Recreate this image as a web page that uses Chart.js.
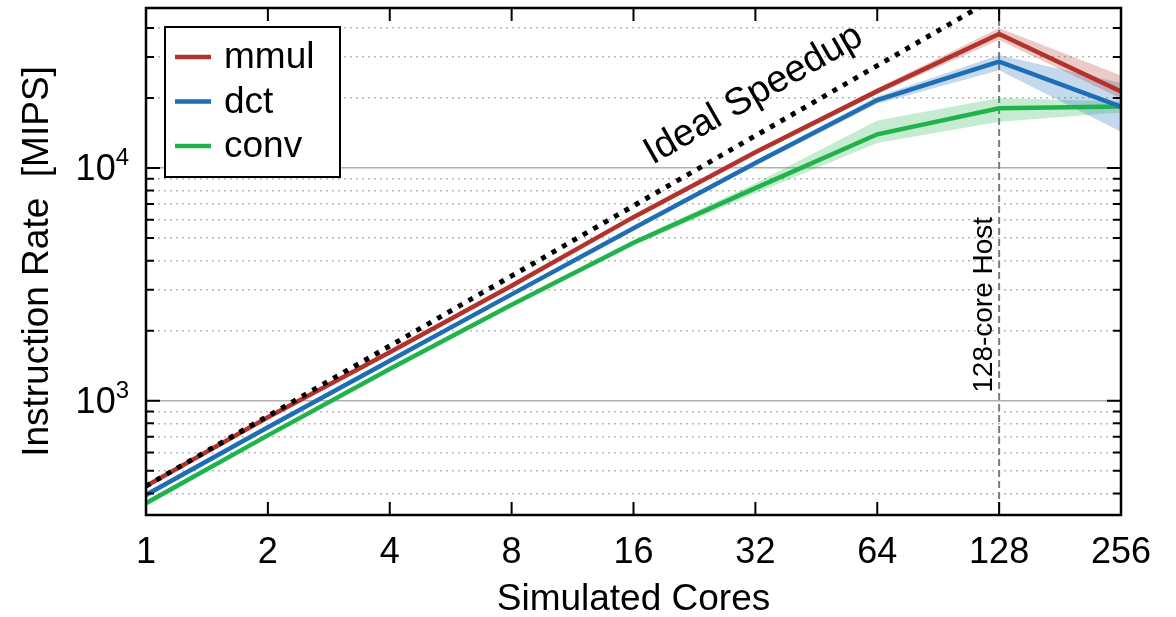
<!DOCTYPE html>
<html>
<head>
<meta charset="utf-8">
<script src="https://cdn.jsdelivr.net/npm/chart.js@4"></script>
<style>
  html, body { margin: 0; padding: 0; background: #fff; }
  #wrap { width: 1176px; height: 617px; }
</style>
</head>
<body>
<div id="wrap"><canvas id="chart-mips"></canvas></div>
<script>
// values
const cores = [1, 2, 4, 8, 16, 32, 64, 128, 256];
const idealRate = [430, 860, 1720, 3440, 6880, 13760, 27520, 55040, 110080];

const mmulRate = [430, 850, 1615, 3120, 6150, 11700, 21400, 37700, 21300];
const mmulLow  = [425, 840, 1595, 3080, 6060, 11450, 20800, 35500, 19900];
const mmulHigh = [435, 860, 1635, 3160, 6240, 11950, 22000, 40000, 25000];

const dctRate = [394, 770, 1486, 2865, 5510, 10500, 19600, 28650, 18340];
const dctLow  = [390, 762, 1470, 2830, 5430, 10250, 18900, 26300, 14300];
const dctHigh = [398, 778, 1502, 2900, 5590, 10750, 20300, 30600, 23200];

const convRate = [363, 710, 1369, 2585, 4775, 8200, 13960, 18050, 18400];
const convLow  = [359, 702, 1352, 2550, 4650, 7800, 12800, 15800, 17300];
const convHigh = [367, 718, 1386, 2620, 4900, 8600, 16000, 20000, 19300];

const seriesNames = ['mmul', 'dct', 'conv'];
const seriesColors = ['#b3332c', '#1f6db5', '#20b34b'];
const bandColors = ['rgba(179,51,44,0.26)', 'rgba(31,109,181,0.26)', 'rgba(32,179,75,0.26)'];

const yMajor = [1000, 10000];
const yMinor = [400, 500, 600, 700, 800, 900, 2000, 3000, 4000, 5000, 6000, 7000, 8000, 9000, 20000, 30000, 40000];
const yMin = 323;
const yMax = 48700;

const hostCores = 128;
const hostLabel = '128-core Host';
const idealLabel = 'Ideal Speedup';
const idealLabelCores = 19.2;
const idealLabelRate = 8250;

const FONT = "'Liberation Sans', Arial, Helvetica, sans-serif";
Chart.defaults.font.family = FONT;
Chart.defaults.color = '#000';

function points(values) {
    return cores.map((c, i) => ({ x: c, y: values[i] }));
}

const datasets = [];
const rates = [mmulRate, dctRate, convRate];
const lows = [mmulLow, dctLow, convLow];
const highs = [mmulHigh, dctHigh, convHigh];

datasets.push({
    label: 'Ideal Speedup',
    data: points(idealRate),
    borderColor: '#000',
    borderWidth: 5,
    borderDash: [5, 7],
    borderCapStyle: 'butt',
    pointRadius: 0,
    fill: false,
    order: 0
});

for (let s = 0; s < 3; s++) {
    datasets.push({
        label: seriesNames[s],
        data: points(rates[s]),
        borderColor: seriesColors[s],
        borderWidth: 4.5,
        pointRadius: 0,
        fill: false,
        order: 1
    });
}
for (let s = 0; s < 3; s++) {
    const hiIndex = datasets.length;
    datasets.push({
        label: seriesNames[s] + ' high',
        data: points(highs[s]),
        borderColor: 'rgba(0,0,0,0)',
        borderWidth: 0,
        pointRadius: 0,
        fill: false,
        order: 10
    });
    datasets.push({
        label: seriesNames[s] + ' low',
        data: points(lows[s]),
        borderColor: 'rgba(0,0,0,0)',
        borderWidth: 0,
        pointRadius: 0,
        fill: { target: hiIndex },
        backgroundColor: bandColors[s],
        order: 10
    });
}

const hostLinePlugin = {
    id: 'hostLine',
    beforeDatasetsDraw(chart) {
        const { ctx, chartArea, scales } = chart;
        const px = scales.x.getPixelForValue(hostCores);
        ctx.save();
        ctx.strokeStyle = '#7a7a7a';
        ctx.lineWidth = 2;
        ctx.setLineDash([7, 4]);
        ctx.beginPath();
        ctx.moveTo(px, chartArea.top);
        ctx.lineTo(px, chartArea.bottom);
        ctx.stroke();
        ctx.restore();
    }
};

const decorPlugin = {
    id: 'decor',
    afterDraw(chart) {
        const { ctx, chartArea, scales } = chart;
        const { left, right, top, bottom } = chartArea;
        const xs = scales.x;
        const ys = scales.y;
        ctx.save();

        // inward ticks
        ctx.strokeStyle = '#000';
        ctx.lineWidth = 2;
        ctx.beginPath();
        cores.forEach(c => {
            const px = xs.getPixelForValue(c);
            ctx.moveTo(px, bottom); ctx.lineTo(px, bottom - 13);
            ctx.moveTo(px, top); ctx.lineTo(px, top + 13);
        });
        yMajor.forEach(v => {
            const py = ys.getPixelForValue(v);
            ctx.moveTo(left, py); ctx.lineTo(left + 14, py);
            ctx.moveTo(right, py); ctx.lineTo(right - 14, py);
        });
        yMinor.forEach(v => {
            const py = ys.getPixelForValue(v);
            ctx.moveTo(left, py); ctx.lineTo(left + 8, py);
            ctx.moveTo(right, py); ctx.lineTo(right - 8, py);
        });
        ctx.stroke();

        // frame
        ctx.lineWidth = 2.5;
        ctx.strokeRect(left, top, right - left, bottom - top);

        // y tick labels as powers of ten
        ctx.fillStyle = '#000';
        yMajor.forEach(v => {
            const py = ys.getPixelForValue(v);
            const exp = String(Math.round(Math.log10(v)));
            ctx.font = '24px ' + FONT;
            ctx.textAlign = 'right';
            ctx.textBaseline = 'alphabetic';
            const ew = ctx.measureText(exp).width;
            ctx.fillText(exp, left - 17, py - 3);
            ctx.font = '36px ' + FONT;
            ctx.textBaseline = 'middle';
            ctx.fillText('10', left - 17 - ew, py + 2);
        });

        // host label
        const hx = xs.getPixelForValue(hostCores);
        ctx.save();
        ctx.translate(hx - 7, ys.getPixelForValue(1000) - 8);
        ctx.rotate(-Math.PI / 2);
        ctx.font = '28px ' + FONT;
        ctx.textAlign = 'left';
        ctx.textBaseline = 'alphabetic';
        ctx.fillText(hostLabel, 0, 0);
        ctx.restore();

        // ideal speedup label along the dotted line
        const ax = xs.getPixelForValue(idealLabelCores);
        const ay = ys.getPixelForValue(idealLabelRate);
        const x0 = xs.getPixelForValue(cores[0]), y0 = ys.getPixelForValue(idealRate[0]);
        const x1 = xs.getPixelForValue(cores[4]), y1 = ys.getPixelForValue(idealRate[4]);
        const angle = Math.atan2(y1 - y0, x1 - x0);
        ctx.save();
        ctx.translate(ax, ay);
        ctx.rotate(angle);
        ctx.font = '38px ' + FONT;
        ctx.textAlign = 'left';
        ctx.textBaseline = 'alphabetic';
        ctx.fillText(idealLabel, 0, -26);
        ctx.restore();

        // legend box
        const lx = left + 19, ly = top + 19, lw = 175, lh = 150;
        ctx.fillStyle = '#fff';
        ctx.fillRect(lx, ly, lw, lh);
        ctx.strokeStyle = '#000';
        ctx.lineWidth = 2;
        ctx.strokeRect(lx, ly, lw, lh);
        ctx.font = '37px ' + FONT;
        ctx.textAlign = 'left';
        ctx.textBaseline = 'middle';
        seriesNames.forEach((name, i) => {
            const ey = ly + 30 + i * 44.5;
            ctx.strokeStyle = seriesColors[i];
            ctx.lineWidth = 4.5;
            ctx.beginPath();
            ctx.moveTo(lx + 10, ey);
            ctx.lineTo(lx + 46, ey);
            ctx.stroke();
            ctx.fillStyle = '#000';
            ctx.fillText(name, lx + 59, ey + 1);
        });

        ctx.restore();
    }
};

new Chart(document.getElementById('chart-mips'), {
    type: 'line',
    data: { datasets: datasets },
    options: {
        responsive: true,
        maintainAspectRatio: false,
        animation: false,
        layout: { padding: { top: 8, right: 55, left: 0, bottom: 0 } },
        plugins: {
            legend: { display: false },
            tooltip: { enabled: false }
        },
        elements: { line: { tension: 0 } },
        scales: {
            x: {
                type: 'logarithmic',
                min: 1,
                max: 256,
                afterBuildTicks: scale => { scale.ticks = cores.map(v => ({ value: v })); },
                afterFit: scale => { scale.height = 102; },
                ticks: {
                    callback: value => String(value),
                    font: { size: 36 },
                    color: '#000',
                    padding: 8,
                    maxRotation: 0,
                    autoSkip: false
                },
                grid: { display: false },
                border: { display: false },
                title: {
                    display: true,
                    text: 'Simulated Cores',
                    font: { size: 37, lineHeight: 0.8 },
                    color: '#000',
                    padding: { top: 0, bottom: 2 }
                }
            },
            y: {
                type: 'logarithmic',
                position: 'left',
                min: yMin,
                max: yMax,
                afterBuildTicks: scale => {
                    scale.ticks = yMajor.concat(yMinor).map(v => ({ value: v }));
                },
                afterFit: scale => { scale.width = 146; },
                ticks: { display: false },
                grid: {
                    drawTicks: false,
                    lineWidth: 1.5,
                    color: ctx => yMajor.includes(ctx.tick && ctx.tick.value) ? '#b0b0b0' : '#b8b8b8'
                },
                border: {
                    display: false,
                    dash: ctx => yMajor.includes(ctx.tick && ctx.tick.value) ? [] : [2, 4]
                },
                title: {
                    display: true,
                    text: 'Instruction Rate  [MIPS]',
                    font: { size: 37 },
                    color: '#000',
                    padding: { top: 16, bottom: 0 }
                }
            }
        }
    },
    plugins: [hostLinePlugin, decorPlugin]
});
</script>
</body>
</html>
